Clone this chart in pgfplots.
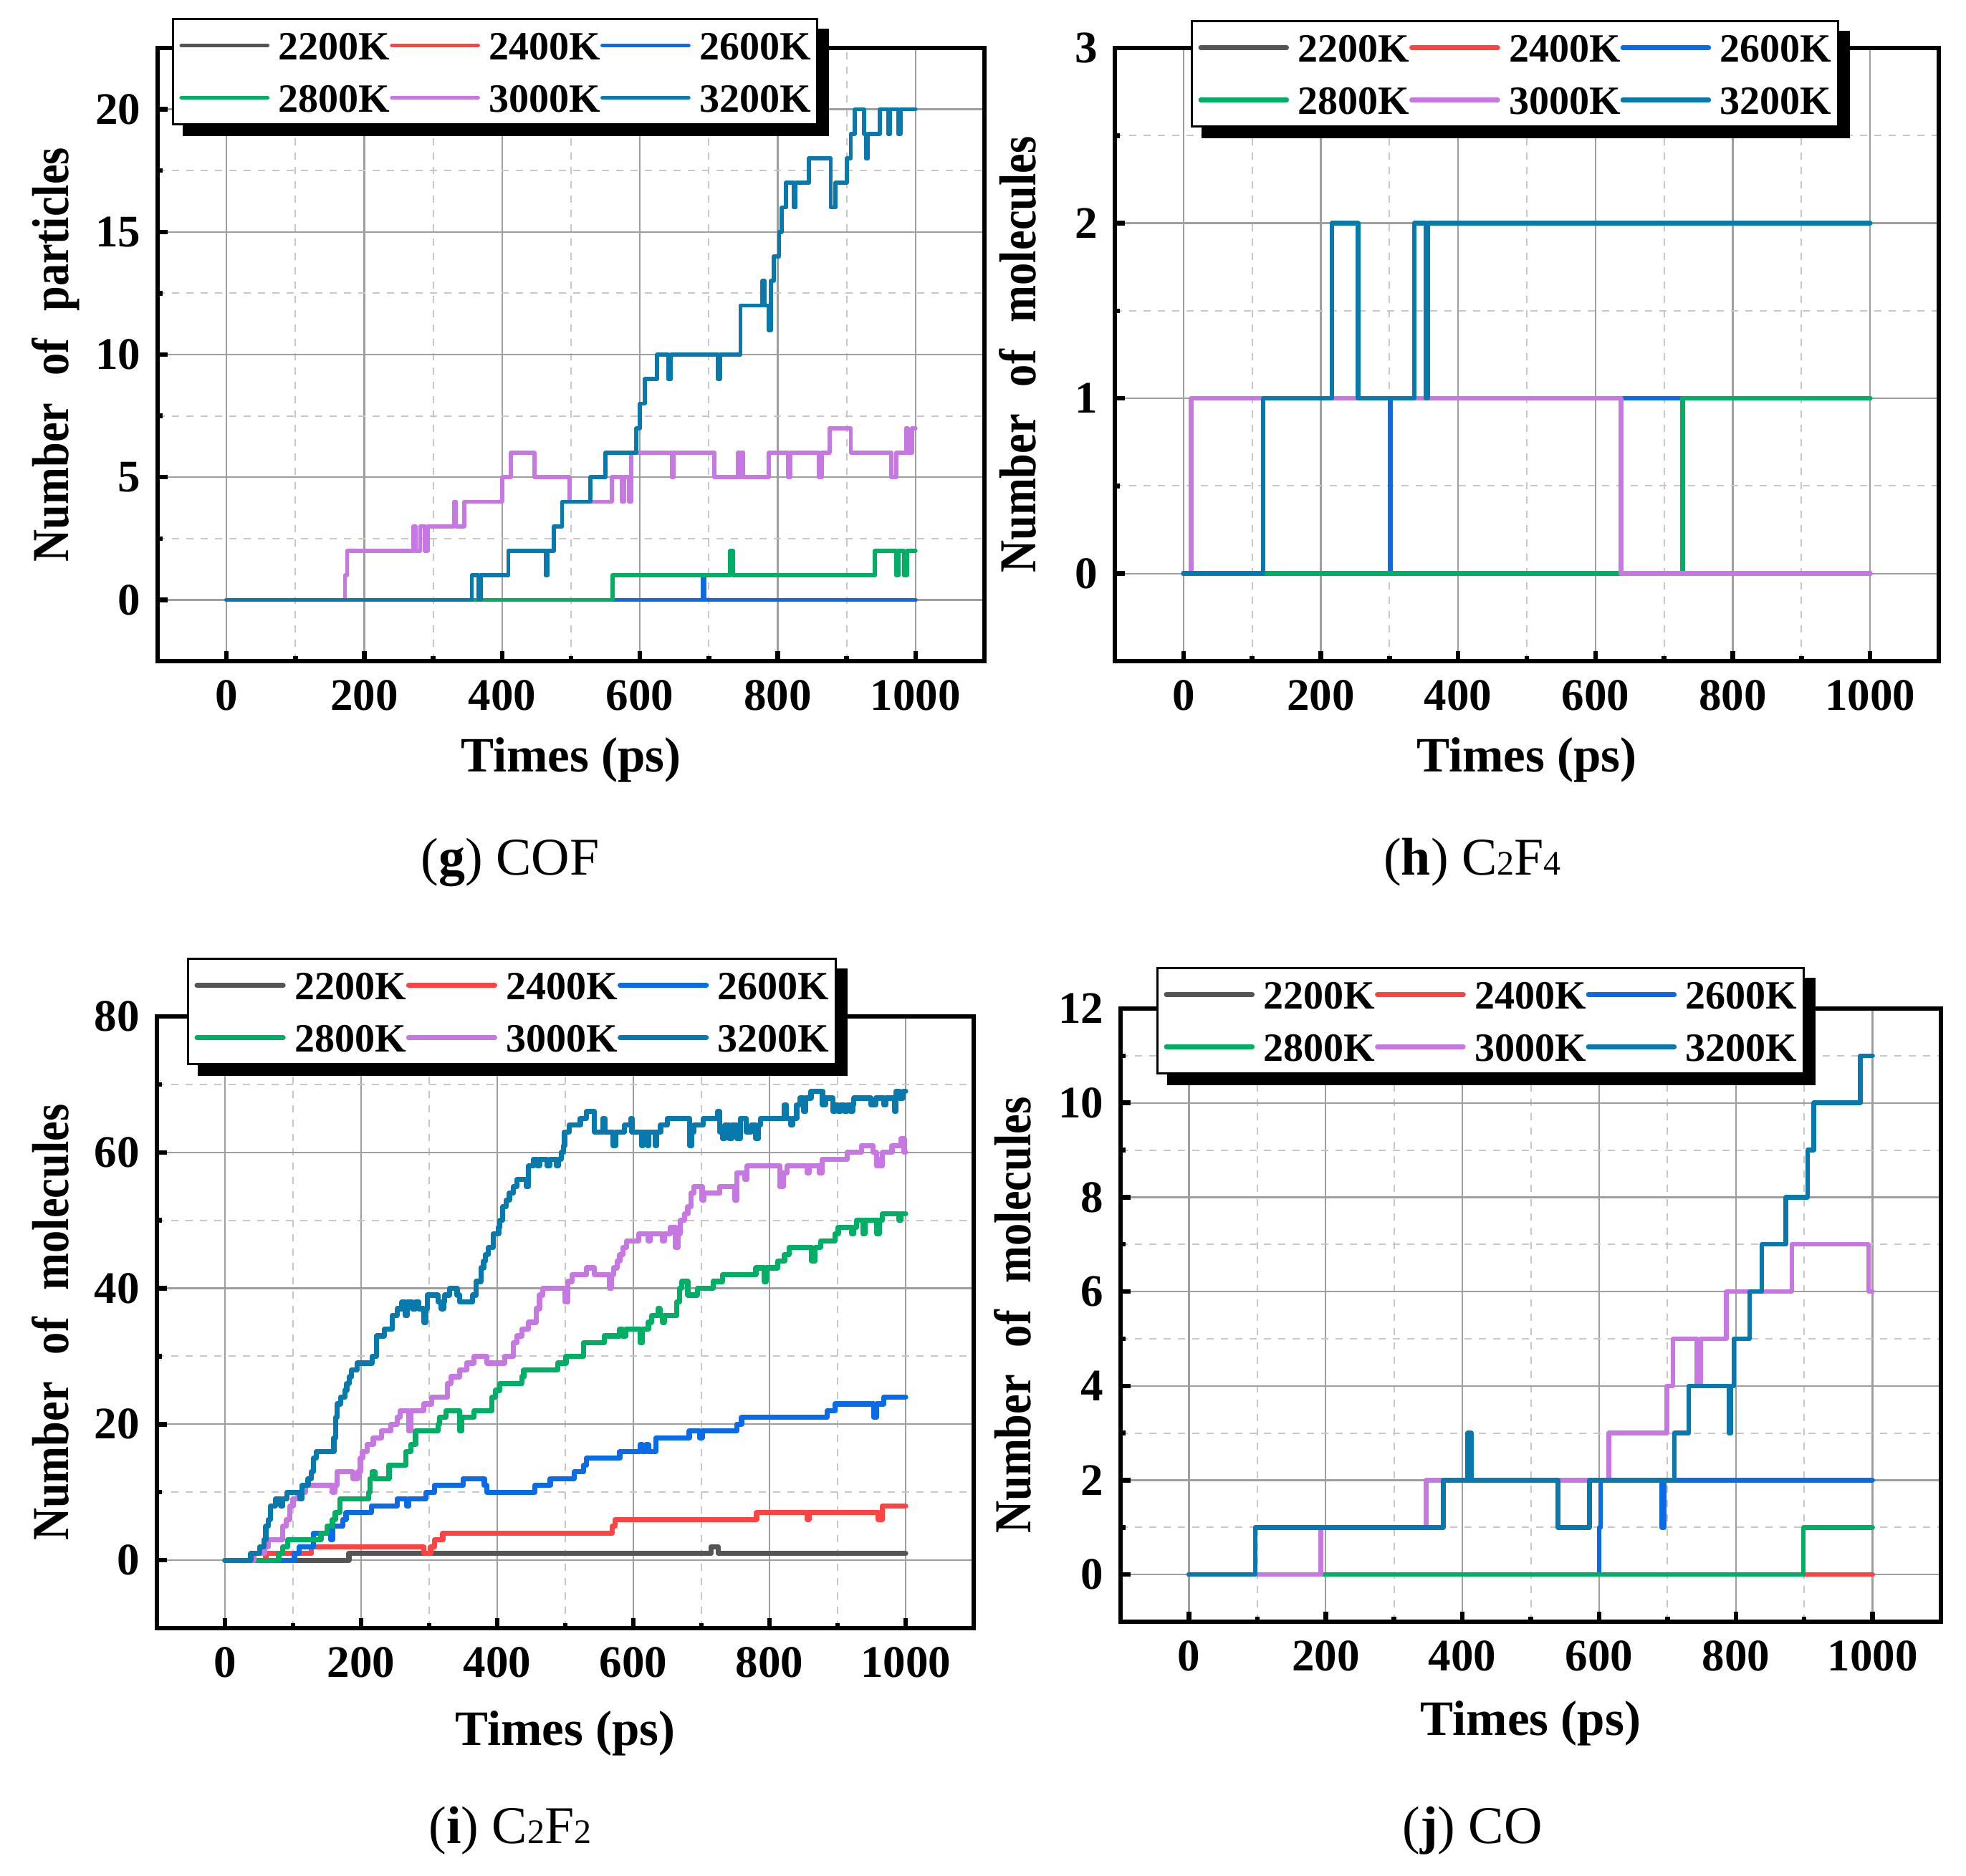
\documentclass[border=0pt]{standalone}
\usepackage{fontspec}
\setmainfont{Liberation Serif}
\newfontfamily\condfont{Liberation Serif}[FakeStretch=0.86]
\usepackage{pgfplots}
\pgfplotsset{compat=1.18}
\definecolor{c22}{HTML}{555555}
\definecolor{c24}{HTML}{FF4242}
\definecolor{c26}{HTML}{0A6BE6}
\definecolor{c28}{HTML}{00AF64}
\definecolor{c30}{HTML}{C777E2}
\definecolor{c32}{HTML}{0779AC}
\pgfplotsset{
  ser/.style 2 args={color=#1, const plot, no marks, line width=#2, line join=round, line cap=round,
     legend image code/.code={\draw[##1] (0pt,0pt) -- (24pt,0pt);}},
  panel/.style={
    scale only axis,
    xmin=-100, xmax=1100,
    xtick={0,200,400,600,800,1000},
    minor x tick num=1, minor y tick num=1,
    tick pos=left,
    tick align=inside,
    major tick length=2.8pt, minor tick length=1.4pt,
    every tick/.style={black, line width=1.3pt},
    axis line style={line width=1.3pt, black},
    grid=both,
    major grid style={line width=0.45pt, draw=black!38},
    minor grid style={line width=0.4pt, draw=black!22, dash pattern=on 2pt off 2pt},
    /pgf/number format/assume math mode=true,
    /pgf/number format/1000 sep={},
    ticklabel style={font=\bfseries\fontsize{12.6}{12.6}\selectfont},
    xticklabel style={inner sep=0pt, yshift=-5.2pt},
    yticklabel style={inner sep=0pt, xshift=-4.6pt},
    xlabel={Times (ps)},
    xlabel style={font=\bfseries\fontsize{13.8}{13.8}\selectfont, inner sep=0pt, anchor=base},
    ylabel style={font=\condfont\bfseries\fontsize{14.5}{14.5}\selectfont, inner sep=0pt, anchor=base},
    legend columns=3,
    legend cell align=left,
    legend style={anchor=north west, draw=black, line width=0.6pt, fill=white,
      font=\bfseries\fontsize{11.2}{11.2}\selectfont,
      inner xsep=1.8pt, inner ysep=3.4pt, row sep=6.6pt, column sep=0pt,
      nodes={inner sep=0pt, text height=8pt, text depth=0pt},
      /tikz/every odd column/.style={column sep=2.5pt},
      /tikz/every even column/.style={column sep=0pt}},
  }
}
\newcommand\legshadow[1]{%
  \fill[black] ([yshift=-3pt]#1.north east) rectangle ([shift={(3pt,-3pt)}]#1.south east);
  \fill[black] ([xshift=3pt]#1.south west) rectangle ([shift={(3pt,-3pt)}]#1.south east);}
\begin{document}
\begin{tikzpicture}
\useasboundingbox (0,0) rectangle (548.8pt,-523.8pt);

% ---------------- (g) COF ----------------
\begin{axis}[panel, at={(44pt,-184.6pt)}, anchor=south west, width=230.8pt, height=171.2pt,
  ymin=-2.5, ymax=22.5, ytick={0,5,10,15,20},
  ylabel={Number\hspace{7.6pt}of\hspace{7.6pt}particles},
  ylabel style={at={(axis description cs:-0.1075,0.5)}},
  xlabel style={at={(axis description cs:0.5,-0.18)}},
  legend style={name=legg, at={(axis description cs:0.0173,1.049)}}]
\addplot[ser={c22}{1.15pt}] coordinates {(0,0)(1000,0)};
\addplot[ser={c24}{1.15pt}] coordinates {(0,0)(1000,0)};
\addplot[ser={c26}{1.15pt}] coordinates {(0,0)(690,0)(691,1)(694,0)(1000,0)};
\addplot[ser={c28}{1.15pt}] coordinates {(0,0)(560,1)(731,2)(735,1)(941,2)(972,1)(975,2)(983,1)(988,2)(1000,2)};
\addplot[ser={c30}{1.15pt}] coordinates {(0,0)(172,1)(175,2)(271,3)(274,2)(281,3)(288,2)(292,3)(330,4)(333,3)(345,4)(400,5)(413,6)(447,5)(498,4)(559,5)(574,4)(577,5)(584,4)(587,6)(646,5)(649,6)(708,5)(742,6)(745,5)(747,6)(750,5)(787,6)(815,5)(818,6)(860,5)(864,6)(875,7)(906,6)(965,5)(972,6)(986,7)(989,6)(995,7)(1000,7)};
\addplot[ser={c32}{1.15pt}] coordinates {(0,0)(356,1)(366,0)(369,1)(409,2)(463,1)(466,2)(475,3)(487,4)(528,5)(550,6)(595,7)(600,8)(607,9)(625,10)(641,9)(645,10)(713,9)(716,10)(746,12)(778,13)(781,12)(787,11)(790,13)(794,14)(802,15)(806,16)(812,17)(823,16)(826,17)(845,18)(877,16)(884,17)(900,18)(906,19)(912,20)(925,19)(928,18)(931,19)(948,20)(960,19)(963,20)(975,19)(978,20)(1000,20)};
\legend{2200K,2400K,2600K,2800K,3000K,3200K}
\end{axis}
\legshadow{legg}

% ---------------- (h) C2F4 ----------------
\begin{axis}[panel, at={(311.2pt,-184.6pt)}, anchor=south west, width=230pt, height=171.2pt,
  ymin=-0.5, ymax=3, ytick={0,1,2,3},
  ylabel={Number\hspace{7.6pt}of\hspace{7.6pt}molecules},
  ylabel style={at={(axis description cs:-0.0957,0.5)}},
  xlabel style={at={(axis description cs:0.5,-0.18)}},
  legend style={name=legh, at={(axis description cs:0.0922,1.0456)}}]
\addplot[ser={c22}{1.3pt}] coordinates {(0,0)(1000,0)};
\addplot[ser={c24}{1.3pt}] coordinates {(0,0)(1000,0)};
\addplot[ser={c26}{1.3pt}] coordinates {(0,0)(301,1)(1000,1)};
\addplot[ser={c28}{1.3pt}] coordinates {(0,0)(727,1)(1000,1)};
\addplot[ser={c30}{1.3pt}] coordinates {(0,0)(11,1)(637,0)(1000,0)};
\addplot[ser={c32}{1.3pt}] coordinates {(0,0)(116,1)(216,2)(254,1)(336,2)(353,1)(356,2)(1000,2)};
\legend{2200K,2400K,2600K,2800K,3000K,3200K}
\end{axis}
\legshadow{legh}

% ---------------- (i) C2F2 ----------------
\begin{axis}[panel, at={(43.8pt,-454.6pt)}, anchor=south west, width=228pt, height=170.8pt,
  ymin=-10, ymax=80, ytick={0,20,40,60,80},
  ylabel={Number\hspace{7.6pt}of\hspace{7.6pt}molecules},
  ylabel style={at={(axis description cs:-0.1079,0.5)}},
  xlabel style={at={(axis description cs:0.5,-0.191)}},
  legend style={name=legi, at={(axis description cs:0.0368,1.096)}}]
\addplot[ser={c22}{1.45pt}] coordinates {(0,0)(182,1)(714,2)(725,1)(1000,1)};
\addplot[ser={c24}{1.45pt}] coordinates {(0,0)(60,1)(127,2)(292,1)(302,2)(308,3)(320,4)(569,5)(573,6)(781,7)(855,6)(858,7)(960,6)(966,8)(1000,8)};
\addplot[ser={c26}{1.45pt}] coordinates {(0,0)(102,1)(109,2)(130,4)(155,3)(158,5)(173,6)(178,7)(215,8)(253,9)(267,8)(270,9)(295,10)(308,11)(350,12)(381,11)(385,10)(455,11)(478,12)(513,13)(527,14)(531,15)(580,16)(610,17)(613,16)(619,17)(622,16)(633,18)(682,19)(697,18)(701,19)(752,20)(759,21)(885,22)(896,23)(953,21)(957,23)(968,24)(1000,24)};
\addplot[ser={c28}{1.45pt}] coordinates {(0,0)(79,1)(85,2)(92,3)(141,4)(150,5)(158,6)(162,7)(169,9)(211,10)(213,12)(216,13)(220,12)(241,14)(266,16)(273,17)(280,19)(313,20)(315,21)(325,22)(345,19)(348,21)(366,22)(392,24)(397,25)(404,26)(436,27)(439,28)(489,29)(501,30)(527,32)(557,33)(580,34)(584,33)(589,34)(610,32)(613,34)(622,35)(627,36)(636,37)(639,36)(643,35)(646,36)(664,38)(668,40)(671,41)(680,39)(694,40)(717,41)(731,42)(780,43)(792,41)(795,43)(812,44)(822,45)(829,46)(862,44)(867,46)(875,47)(896,48)(901,49)(921,48)(924,49)(928,50)(937,48)(940,50)(958,48)(961,50)(966,51)(990,50)(993,51)(1000,51)};
\addplot[ser={c30}{1.45pt}] coordinates {(0,0)(43,1)(58,2)(64,3)(85,5)(90,6)(95,8)(100,9)(107,10)(118,11)(158,10)(161,11)(165,13)(188,12)(195,13)(199,15)(202,16)(209,17)(218,18)(230,19)(244,20)(253,21)(257,22)(270,19)(273,22)(292,23)(304,24)(327,26)(332,27)(345,28)(355,29)(366,30)(385,29)(411,30)(424,32)(429,33)(436,34)(446,35)(457,37)(462,39)(467,40)(500,38)(504,41)(510,42)(531,43)(543,42)(565,40)(568,42)(571,43)(576,44)(580,45)(585,46)(590,47)(608,48)(622,47)(625,48)(643,47)(646,48)(654,49)(662,46)(666,48)(669,50)(675,51)(680,52)(685,54)(689,55)(701,53)(704,54)(727,55)(749,53)(752,57)(764,56)(767,58)(815,55)(820,57)(826,58)(855,57)(858,58)(873,57)(877,59)(914,60)(935,61)(952,60)(957,58)(960,59)(963,58)(966,60)(980,61)(993,62)(998,60)(1000,60)};
\addplot[ser={c32}{1.45pt}] coordinates {(0,0)(38,1)(51,2)(57,3)(60,5)(64,6)(67,8)(74,9)(82,8)(85,9)(91,10)(110,9)(113,11)(122,12)(127,13)(130,15)(134,16)(160,18)(163,21)(165,23)(170,24)(176,25)(179,26)(183,27)(186,28)(194,29)(216,30)(223,33)(234,34)(246,36)(253,37)(260,38)(265,36)(268,38)(275,37)(280,38)(285,37)(292,35)(295,37)(297,39)(313,38)(318,37)(321,38)(323,39)(330,40)(341,39)(345,38)(364,39)(369,41)(376,43)(380,44)(383,45)(387,46)(394,48)(402,49)(404,50)(408,52)(413,53)(418,54)(424,55)(429,56)(443,55)(446,58)(453,59)(459,58)(462,59)(473,58)(477,59)(487,58)(490,59)(494,60)(497,61)(499,63)(506,64)(522,65)(531,66)(543,63)(555,65)(558,63)(570,61)(574,63)(587,64)(596,65)(598,63)(612,61)(614,63)(621,61)(623,63)(632,61)(634,63)(640,64)(650,65)(683,61)(686,63)(689,64)(703,65)(724,66)(727,63)(731,62)(734,64)(741,62)(745,64)(752,62)(757,65)(766,63)(773,64)(780,62)(784,64)(787,65)(822,67)(825,65)(831,64)(834,65)(840,67)(845,68)(850,66)(853,68)(861,69)(878,67)(882,68)(893,66)(896,67)(901,66)(905,67)(910,66)(914,67)(919,66)(922,67)(924,68)(949,67)(956,68)(968,67)(971,68)(984,66)(986,69)(991,68)(996,69)(1000,69)};
\legend{2200K,2400K,2600K,2800K,3000K,3200K}
\end{axis}
\legshadow{legi}

% ---------------- (j) CO ----------------
\begin{axis}[panel, at={(312.8pt,-452.8pt)}, anchor=south west, width=229pt, height=171.2pt,
  ymin=-1, ymax=12, ytick={0,2,4,6,8,10,12},
  ylabel={Number\hspace{7.6pt}of\hspace{7.6pt}molecules},
  ylabel style={at={(axis description cs:-0.110,0.5)}},
  xlabel style={at={(axis description cs:0.5,-0.185)}},
  legend style={name=legj, at={(axis description cs:0.0437,1.068)}}]
\addplot[ser={c22}{1.3pt}] coordinates {(0,0)(1000,0)};
\addplot[ser={c24}{1.3pt}] coordinates {(0,0)(1000,0)};
\addplot[ser={c26}{1.3pt}] coordinates {(0,0)(600,1)(602,2)(692,1)(695,2)(1000,2)};
\addplot[ser={c28}{1.3pt}] coordinates {(0,0)(899,1)(1000,1)};
\addplot[ser={c30}{1.3pt}] coordinates {(0,0)(193,1)(347,2)(614,3)(699,4)(708,5)(743,4)(749,5)(786,6)(882,7)(994,6)(1000,6)};
\addplot[ser={c32}{1.3pt}] coordinates {(0,0)(97,1)(372,2)(408,3)(410,2)(411,3)(413,2)(540,1)(586,2)(710,3)(731,4)(790,3)(793,4)(797,5)(820,6)(838,7)(873,8)(905,9)(914,10)(982,11)(1000,11)};
\legend{2200K,2400K,2600K,2800K,3000K,3200K}
\end{axis}
\legshadow{legj}

% captions
\node[font=\fontsize{14.8}{14.8}\selectfont, anchor=base, inner sep=0pt] at (142.4pt,-244.4pt) {(\textbf{g}) COF};
\node[font=\fontsize{14.8}{14.8}\selectfont, anchor=base, inner sep=0pt] at (411pt,-244.4pt) {(\textbf{h}) C{\fontsize{9.6}{9.6}\selectfont 2}F{\fontsize{9.6}{9.6}\selectfont 4}};
\node[font=\fontsize{14.8}{14.8}\selectfont, anchor=base, inner sep=0pt] at (142.4pt,-514.6pt) {(\textbf{i}) C{\fontsize{9.6}{9.6}\selectfont 2}F{\fontsize{9.6}{9.6}\selectfont 2}};
\node[font=\fontsize{14.8}{14.8}\selectfont, anchor=base, inner sep=0pt] at (411pt,-514.6pt) {(\textbf{j}) CO};
\end{tikzpicture}
\end{document}
